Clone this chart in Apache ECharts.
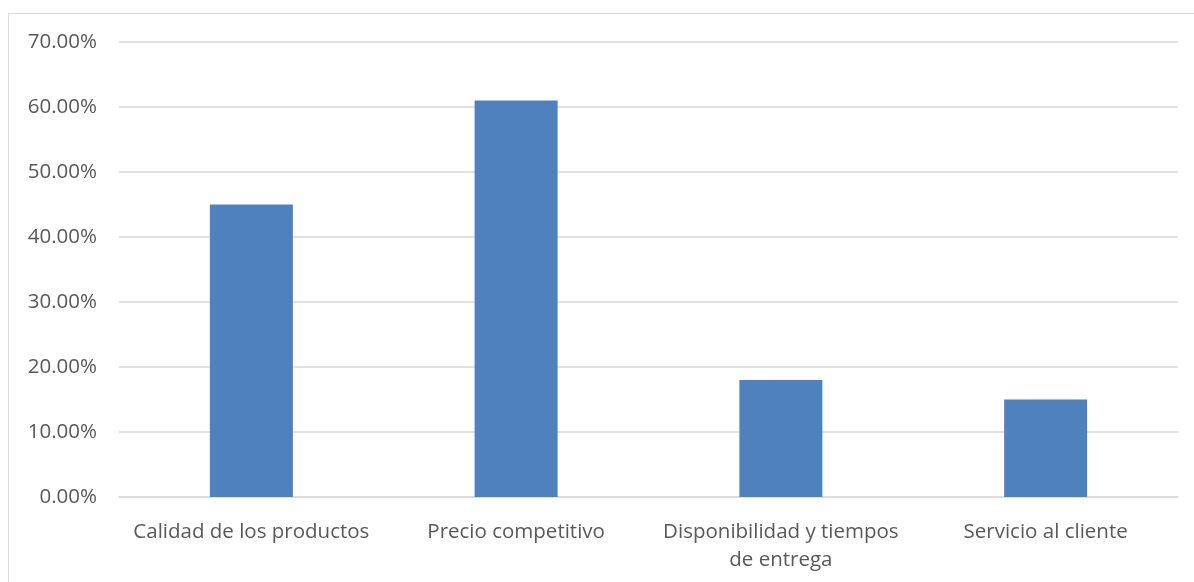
<!DOCTYPE html>
<html>
<head>
<meta charset="utf-8">
<script src="https://cdn.jsdelivr.net/npm/echarts@6/dist/echarts.min.js"></script>
<style>
  html, body { margin: 0; padding: 0; background: #fff; }
  #frame { position: absolute; left: 8px; top: 13px; width: 1200px; height: 600px; border-left: 1px solid #d9d9d9; border-top: 1px solid #d9d9d9; }
  #chart { position: absolute; left: 0; top: 0; width: 1194px; height: 582px; }
</style>
</head>
<body>
<div id="frame"></div>
<div id="chart"></div>
<script>
const categories = ['Calidad de los productos', 'Precio competitivo', 'Disponibilidad y tiempos\nde entrega', 'Servicio al cliente'];
const shares = [0.45, 0.61, 0.18, 0.15];
const yTicks = { min: 0, max: 0.7, interval: 0.1 };

const textColor = '#595959';
const font = '"Open Sans", "Noto Sans", sans-serif';

const chart = echarts.init(document.getElementById('chart'), null, { renderer: 'canvas' });
chart.setOption({
  animation: false,
  grid: { left: 119, right: 16, top: 42, bottom: 85, containLabel: false },
  xAxis: {
    type: 'category',
    data: categories,
    axisLine: { show: true, lineStyle: { color: '#d9d9d9', width: 1.5 } },
    axisTick: { show: false },
    axisLabel: { color: textColor, fontFamily: font, fontSize: 20.5, margin: 21, lineHeight: 28, interval: 0 }
  },
  yAxis: {
    type: 'value',
    min: yTicks.min, max: yTicks.max, interval: yTicks.interval,
    axisLine: { show: false },
    axisTick: { show: false },
    splitLine: { lineStyle: { color: '#d9d9d9', width: 1.5 } },
    axisLabel: {
      color: textColor, fontFamily: font, fontSize: 20.5, margin: 22,
      formatter: v => (v * 100).toFixed(2) + '%'
    }
  },
  series: [{
    type: 'bar',
    data: shares,
    barWidth: 83,
    itemStyle: { color: '#4f81bd' }
  }]
});
</script>
</body>
</html>
